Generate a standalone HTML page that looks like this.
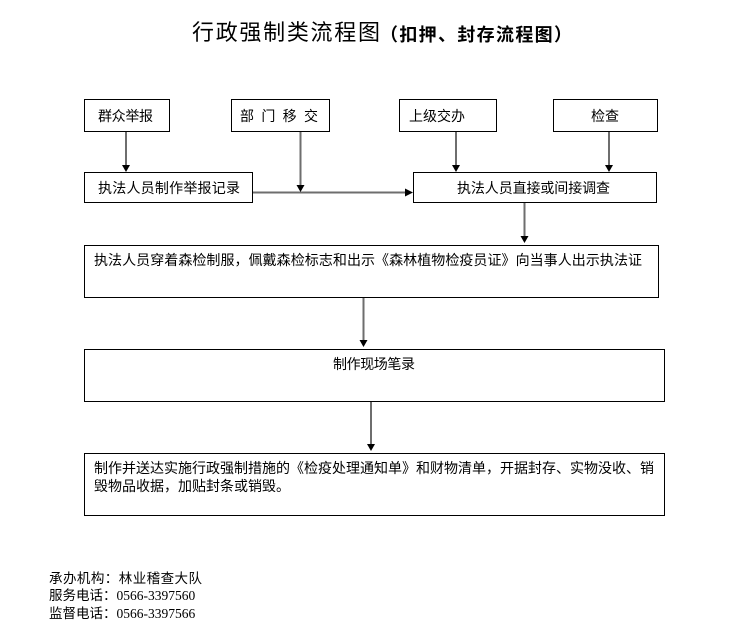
<!DOCTYPE html>
<html>
<head>
<meta charset="utf-8">
<style>
  html,body{margin:0;padding:0;background:#fff;}
  body{width:741px;height:631px;overflow:hidden;}
  svg{display:block;}
  .t{font-family:"Liberation Sans","Noto Sans CJK SC",sans-serif;font-size:14px;fill:#000;}
  .f{font-family:"Liberation Serif","Noto Sans CJK SC",serif;font-size:13.5px;fill:#000;}
</style>
</head>
<body>
<svg width="741" height="631" viewBox="0 0 741 631" xmlns="http://www.w3.org/2000/svg">
  <!-- Title -->
  <text x="192" y="40" style="font-family:'Liberation Sans','Noto Sans CJK SC',sans-serif;font-size:22px;" textLength="188" lengthAdjust="spacing">行政强制类流程图</text>
  <text x="380" y="41" style="font-family:'Liberation Sans','Noto Sans CJK SC',sans-serif;font-size:18px;font-weight:bold;" textLength="192" lengthAdjust="spacing">（扣押、封存流程图）</text>

  <g fill="none" stroke="#000" stroke-width="1">
    <rect x="84.5" y="99.5" width="85" height="32"/>
    <rect x="231.5" y="99.5" width="98" height="32"/>
    <rect x="399.5" y="99.5" width="97" height="32"/>
    <rect x="553.5" y="99.5" width="104" height="32"/>
    <rect x="84.5" y="172.5" width="168" height="30"/>
    <rect x="413.5" y="172.5" width="243" height="30"/>
    <rect x="84.5" y="245.5" width="574" height="52"/>
    <rect x="84.5" y="349.5" width="580" height="52"/>
    <rect x="84.5" y="453.5" width="580" height="62"/>
  </g>

  <!-- connectors -->
  <g stroke="#6e6e6e" stroke-width="2" fill="none">
    <line x1="126" y1="132" x2="126" y2="166"/>
    <line x1="300.5" y1="132" x2="300.5" y2="186"/>
    <line x1="456" y1="132" x2="456" y2="166"/>
    <line x1="609" y1="132" x2="609" y2="166"/>
    <line x1="253" y1="192.5" x2="406" y2="192.5"/>
    <line x1="524.5" y1="203" x2="524.5" y2="237"/>
    <line x1="363.5" y1="298" x2="363.5" y2="341"/>
    <line x1="371" y1="402" x2="371" y2="445"/>
  </g>
  <g fill="#000">
    <polygon points="122,165 130,165 126,172"/>
    <polygon points="296.5,185 304.5,185 300.5,192"/>
    <polygon points="452,165 460,165 456,172"/>
    <polygon points="605,165 613,165 609,172"/>
    <polygon points="405,188.5 405,196.5 413,192.5"/>
    <polygon points="520.5,236 528.5,236 524.5,243"/>
    <polygon points="359.5,340 367.5,340 363.5,347"/>
    <polygon points="367,444 375,444 371,451"/>
  </g>

  <!-- box labels -->
  <text class="t" x="98" y="121" textLength="55" lengthAdjust="spacing">群众举报</text>
  <text class="t" x="240" y="121" textLength="78" lengthAdjust="spacing">部 门 移 交</text>
  <text class="t" x="409" y="121" textLength="56" lengthAdjust="spacing">上级交办</text>
  <text class="t" x="591" y="121" textLength="28" lengthAdjust="spacing">检查</text>
  <text class="t" x="98" y="193" textLength="142" lengthAdjust="spacing">执法人员制作举报记录</text>
  <text class="t" x="457" y="193" textLength="153" lengthAdjust="spacing">执法人员直接或间接调查</text>
  <text class="t" x="94" y="265" textLength="548" lengthAdjust="spacing">执法人员穿着森检制服，佩戴森检标志和出示《森林植物检疫员证》向当事人出示执法证</text>
  <text class="t" x="333" y="369" textLength="82" lengthAdjust="spacing">制作现场笔录</text>
  <text class="t" x="94" y="473" textLength="560" lengthAdjust="spacing">制作并送达实施行政强制措施的《检疫处理通知单》和财物清单，开据封存、实物没收、销</text>
  <text class="t" x="94" y="491" textLength="196" lengthAdjust="spacing">毁物品收据，加贴封条或销毁。</text>

  <!-- footer -->
  <text class="f" x="49" y="583" textLength="153" lengthAdjust="spacing">承办机构：林业稽查大队</text>
  <text class="f" x="49" y="600">服务电话：0566-3397560</text>
  <text class="f" x="49" y="618">监督电话：0566-3397566</text>
</svg>
</body>
</html>
